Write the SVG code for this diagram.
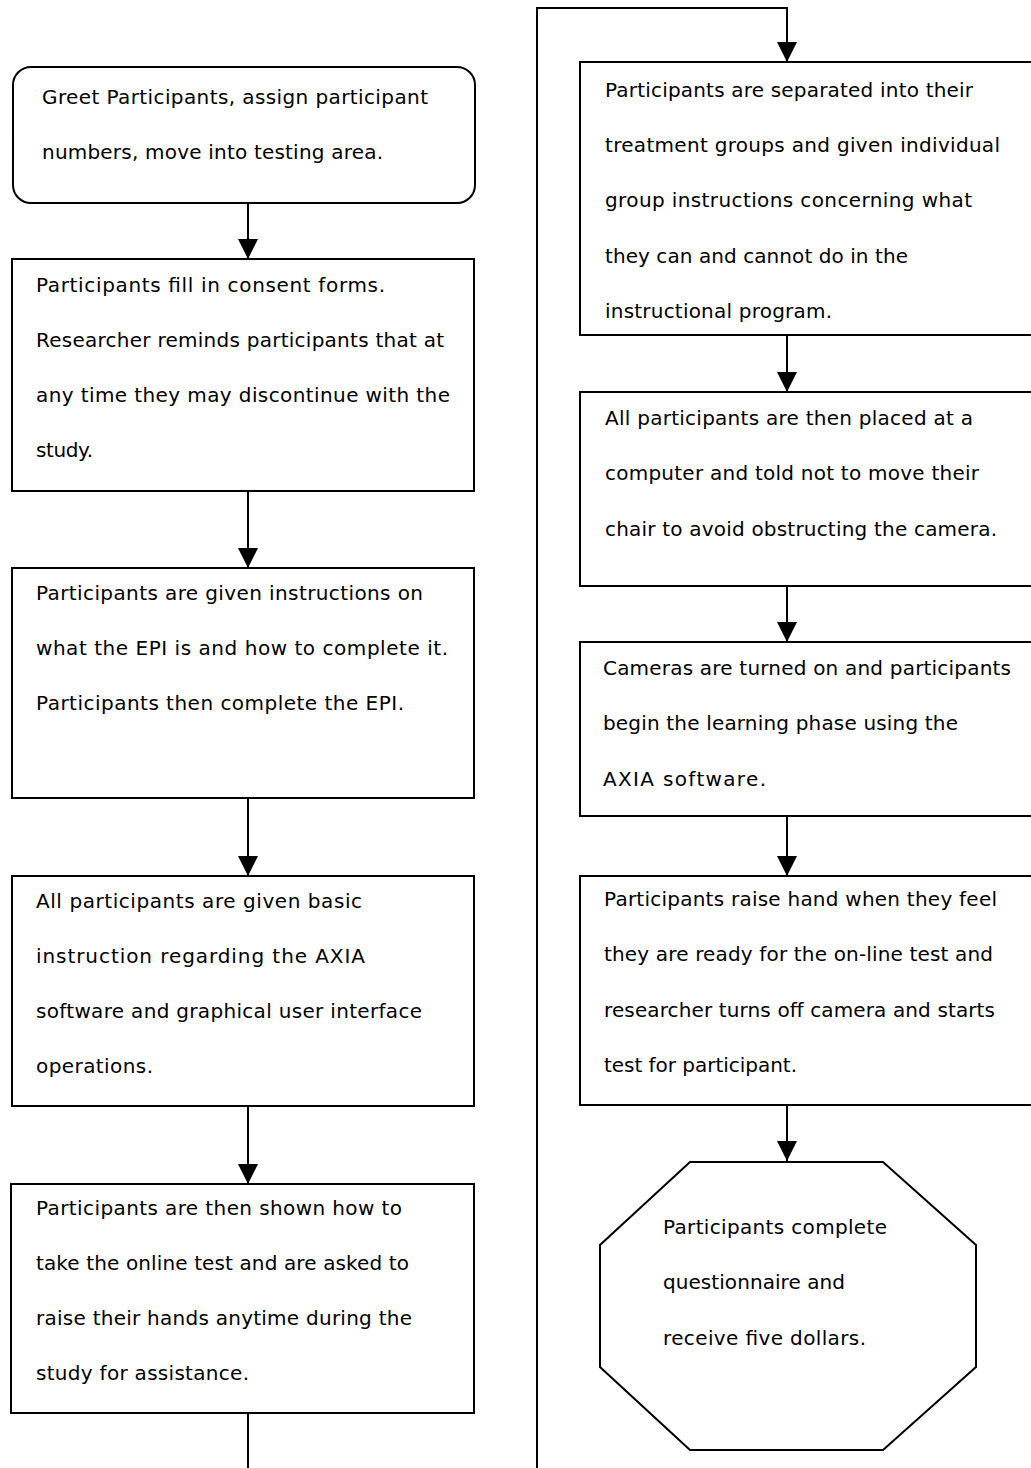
<svg xmlns="http://www.w3.org/2000/svg" width="1031" height="1468" viewBox="0 0 1031 1468">
<style>
.box{fill:#fff;stroke:#000;stroke-width:2}
.t{font-family:"DejaVu Sans","Liberation Sans",sans-serif;font-size:20px;fill:#000}
.c{fill:none;stroke:#000;stroke-width:2}
</style>
<defs>
<marker id="ah" markerUnits="userSpaceOnUse" markerWidth="20" markerHeight="20" refX="20" refY="10" orient="auto" viewBox="0 0 20 20">
<path d="M0,0 L20,10 L0,20 z" fill="#000"/>
</marker>
</defs>
<rect width="1031" height="1468" fill="#fff"/>

<g id="n1">
<rect class="box" x="13" y="67" width="462" height="136" rx="18"/>
<text class="t" x="42" y="104" textLength="386" lengthAdjust="spacing">Greet Participants, assign participant</text>
<text class="t" x="42" y="159" textLength="341" lengthAdjust="spacing">numbers, move into testing area.</text>
</g>

<g id="n2">
<rect class="box" x="12" y="259" width="462" height="232"/>
<text class="t" x="36" y="292" textLength="349" lengthAdjust="spacing">Participants fill in consent forms.</text>
<text class="t" x="36" y="347" textLength="408" lengthAdjust="spacing">Researcher reminds participants that at</text>
<text class="t" x="36" y="402" textLength="414" lengthAdjust="spacing">any time they may discontinue with the</text>
<text class="t" x="36" y="457" textLength="57" lengthAdjust="spacing">study.</text>
</g>

<g id="n3">
<rect class="box" x="12" y="568" width="462" height="230"/>
<text class="t" x="36" y="600" textLength="387" lengthAdjust="spacing">Participants are given instructions on</text>
<text class="t" x="36" y="655" textLength="412" lengthAdjust="spacing">what the EPI is and how to complete it.</text>
<text class="t" x="36" y="710" textLength="368" lengthAdjust="spacing">Participants then complete the EPI.</text>
</g>

<g id="n4">
<rect class="box" x="12" y="876" width="462" height="230"/>
<text class="t" x="36" y="908" textLength="326" lengthAdjust="spacing">All participants are given basic</text>
<text class="t" x="36" y="963" textLength="329" lengthAdjust="spacing">instruction regarding the AXIA</text>
<text class="t" x="36" y="1018" textLength="386" lengthAdjust="spacing">software and graphical user interface</text>
<text class="t" x="36" y="1073" textLength="117" lengthAdjust="spacing">operations.</text>
</g>

<g id="n5">
<rect class="box" x="11" y="1184" width="463" height="229"/>
<text class="t" x="36" y="1215" textLength="366" lengthAdjust="spacing">Participants are then shown how to</text>
<text class="t" x="36" y="1270" textLength="373" lengthAdjust="spacing">take the online test and are asked to</text>
<text class="t" x="36" y="1325" textLength="376" lengthAdjust="spacing">raise their hands anytime during the</text>
<text class="t" x="36" y="1380" textLength="213" lengthAdjust="spacing">study for assistance.</text>
</g>

<g id="n6">
<rect class="box" x="580" y="62" width="470" height="273"/>
<text class="t" x="605" y="97" textLength="368" lengthAdjust="spacing">Participants are separated into their</text>
<text class="t" x="605" y="152" textLength="395" lengthAdjust="spacing">treatment groups and given individual</text>
<text class="t" x="605" y="207" textLength="367" lengthAdjust="spacing">group instructions concerning what</text>
<text class="t" x="605" y="263" textLength="303" lengthAdjust="spacing">they can and cannot do in the</text>
<text class="t" x="605" y="318" textLength="227" lengthAdjust="spacing">instructional program.</text>
</g>

<g id="n7">
<rect class="box" x="580" y="392" width="470" height="194"/>
<text class="t" x="605" y="425" textLength="368" lengthAdjust="spacing">All participants are then placed at a</text>
<text class="t" x="605" y="480" textLength="374" lengthAdjust="spacing">computer and told not to move their</text>
<text class="t" x="605" y="536" textLength="392" lengthAdjust="spacing">chair to avoid obstructing the camera.</text>
</g>

<g id="n8">
<rect class="box" x="580" y="642" width="470" height="174"/>
<text class="t" x="603" y="675" textLength="408" lengthAdjust="spacing">Cameras are turned on and participants</text>
<text class="t" x="603" y="730" textLength="355" lengthAdjust="spacing">begin the learning phase using the</text>
<text class="t" x="603" y="786" textLength="163" lengthAdjust="spacing">AXIA software.</text>
</g>

<g id="n9">
<rect class="box" x="580" y="876" width="470" height="229"/>
<text class="t" x="604" y="906" textLength="393" lengthAdjust="spacing">Participants raise hand when they feel</text>
<text class="t" x="604" y="961" textLength="389" lengthAdjust="spacing">they are ready for the on-line test and</text>
<text class="t" x="604" y="1017" textLength="391" lengthAdjust="spacing">researcher turns off camera and starts</text>
<text class="t" x="604" y="1072" textLength="193" lengthAdjust="spacing">test for participant.</text>
</g>

<g id="n10">
<polygon class="box" points="690,1162 883,1162 976,1245 976,1367 883,1450 690,1450 600,1367 600,1245"/>
<text class="t" x="663" y="1234" textLength="224" lengthAdjust="spacing">Participants complete</text>
<text class="t" x="663" y="1289" textLength="182" lengthAdjust="spacing">questionnaire and</text>
<text class="t" x="663" y="1345" textLength="203" lengthAdjust="spacing">receive five dollars.</text>
</g>

<g id="connectors">
<path class="c" d="M248,203 V259" marker-end="url(#ah)"/>
<path class="c" d="M248,491 V568" marker-end="url(#ah)"/>
<path class="c" d="M248,798 V876" marker-end="url(#ah)"/>
<path class="c" d="M248,1106 V1184" marker-end="url(#ah)"/>
<path class="c" d="M248,1413 V1490 H537 V8 H787 V62" marker-end="url(#ah)"/>
<path class="c" d="M787,335 V392" marker-end="url(#ah)"/>
<path class="c" d="M787,586 V642" marker-end="url(#ah)"/>
<path class="c" d="M787,816 V876" marker-end="url(#ah)"/>
<path class="c" d="M787,1105 V1161" marker-end="url(#ah)"/>
</g>
</svg>
